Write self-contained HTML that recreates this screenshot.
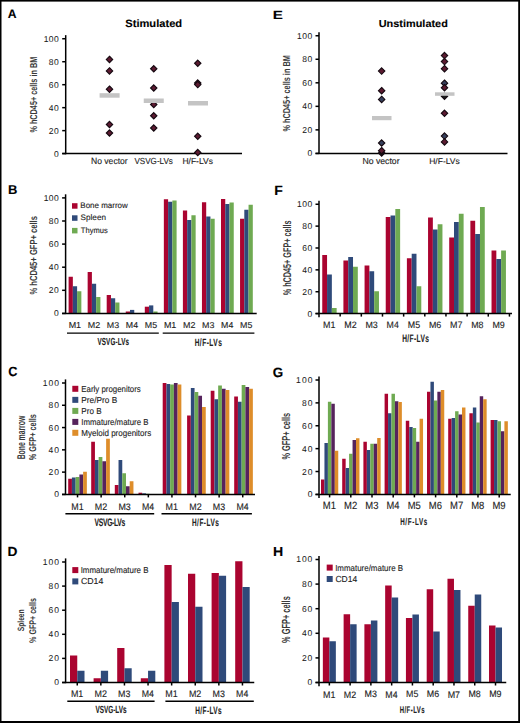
<!DOCTYPE html>
<html><head><meta charset="utf-8"><style>
html,body{margin:0;padding:0;background:#fff;}
body{width:520px;height:723px;overflow:hidden;position:relative;}
svg{position:absolute;left:0;top:0;}
text{font-family:"Liberation Sans",sans-serif;text-rendering:geometricPrecision;stroke:#222;paint-order:stroke;}
</style></head><body>
<svg width="520" height="723" viewBox="0 0 520 723">
<rect x="0" y="0" width="520" height="723" fill="#fff"/>
<text transform="translate(7.87,18.42) scale(0.3041,0.3098)" font-size="40" stroke-width="0.387" font-weight="700" fill="#000" >A</text>
<text transform="translate(125.24,26.82) scale(0.2784,0.2670)" font-size="40" stroke-width="0.449" font-weight="700" fill="#000" >Stimulated</text>
<line x1="65.70" y1="35.15" x2="65.70" y2="154.25" stroke="#000" stroke-width="1.5"/>
<line x1="62.20" y1="153.60" x2="65.70" y2="153.60" stroke="#000" stroke-width="1.5"/>
<text transform="translate(53.90,156.58) scale(0.2125,0.2125)" font-size="40" letter-spacing="1.55" stroke-width="0.188" font-weight="400" fill="#1a1a1a">0</text>
<line x1="62.20" y1="130.63" x2="65.70" y2="130.63" stroke="#000" stroke-width="1.5"/>
<text transform="translate(48.85,133.61) scale(0.2125,0.2125)" font-size="40" letter-spacing="1.55" stroke-width="0.188" font-weight="400" fill="#1a1a1a">20</text>
<line x1="62.20" y1="107.66" x2="65.70" y2="107.66" stroke="#000" stroke-width="1.5"/>
<text transform="translate(48.85,110.63) scale(0.2125,0.2125)" font-size="40" letter-spacing="1.55" stroke-width="0.188" font-weight="400" fill="#1a1a1a">40</text>
<line x1="62.20" y1="84.69" x2="65.70" y2="84.69" stroke="#000" stroke-width="1.5"/>
<text transform="translate(48.85,87.66) scale(0.2125,0.2125)" font-size="40" letter-spacing="1.55" stroke-width="0.188" font-weight="400" fill="#1a1a1a">60</text>
<line x1="62.20" y1="61.72" x2="65.70" y2="61.72" stroke="#000" stroke-width="1.5"/>
<text transform="translate(48.85,64.69) scale(0.2125,0.2125)" font-size="40" letter-spacing="1.55" stroke-width="0.188" font-weight="400" fill="#1a1a1a">80</text>
<line x1="62.20" y1="38.75" x2="65.70" y2="38.75" stroke="#000" stroke-width="1.5"/>
<text transform="translate(43.80,41.72) scale(0.2125,0.2125)" font-size="40" letter-spacing="1.55" stroke-width="0.188" font-weight="400" fill="#1a1a1a">100</text>
<line x1="62.20" y1="153.60" x2="242.00" y2="153.60" stroke="#000" stroke-width="1.5"/>
<text transform="translate(37.22,132.61) rotate(-90) scale(0.1820,0.2500)" font-size="40" stroke-width="0.000" font-weight="700" fill="#3a3a3a">% hCD45+ cells in BM</text>
<polygon points="109.50,56.25 112.70,59.45 109.50,62.65 106.30,59.45" fill="#5c1b31" stroke="#140810" stroke-width="1.1" stroke-linejoin="miter"/>
<polygon points="109.50,67.70 112.70,70.90 109.50,74.10 106.30,70.90" fill="#5c1b31" stroke="#140810" stroke-width="1.1" stroke-linejoin="miter"/>
<polygon points="109.50,86.00 112.70,89.20 109.50,92.40 106.30,89.20" fill="#5c1b31" stroke="#140810" stroke-width="1.1" stroke-linejoin="miter"/>
<polygon points="109.50,121.30 112.70,124.50 109.50,127.70 106.30,124.50" fill="#5c1b31" stroke="#140810" stroke-width="1.1" stroke-linejoin="miter"/>
<polygon points="109.50,129.80 112.70,133.00 109.50,136.20 106.30,133.00" fill="#5c1b31" stroke="#140810" stroke-width="1.1" stroke-linejoin="miter"/>
<polygon points="153.75,65.55 156.95,68.75 153.75,71.95 150.55,68.75" fill="#5c1b31" stroke="#140810" stroke-width="1.1" stroke-linejoin="miter"/>
<polygon points="153.75,84.80 156.95,88.00 153.75,91.20 150.55,88.00" fill="#5c1b31" stroke="#140810" stroke-width="1.1" stroke-linejoin="miter"/>
<polygon points="153.75,101.30 156.95,104.50 153.75,107.70 150.55,104.50" fill="#5c1b31" stroke="#140810" stroke-width="1.1" stroke-linejoin="miter"/>
<polygon points="153.75,112.55 156.95,115.75 153.75,118.95 150.55,115.75" fill="#5c1b31" stroke="#140810" stroke-width="1.1" stroke-linejoin="miter"/>
<polygon points="153.75,124.80 156.95,128.00 153.75,131.20 150.55,128.00" fill="#5c1b31" stroke="#140810" stroke-width="1.1" stroke-linejoin="miter"/>
<polygon points="197.75,60.05 200.95,63.25 197.75,66.45 194.55,63.25" fill="#5c1b31" stroke="#140810" stroke-width="1.1" stroke-linejoin="miter"/>
<polygon points="197.75,79.80 200.95,83.00 197.75,86.20 194.55,83.00" fill="#5c1b31" stroke="#140810" stroke-width="1.1" stroke-linejoin="miter"/>
<polygon points="197.75,81.40 200.95,84.60 197.75,87.80 194.55,84.60" fill="#5c1b31" stroke="#140810" stroke-width="1.1" stroke-linejoin="miter"/>
<polygon points="197.75,133.05 200.95,136.25 197.75,139.45 194.55,136.25" fill="#5c1b31" stroke="#140810" stroke-width="1.1" stroke-linejoin="miter"/>
<polygon points="197.75,149.30 200.95,152.50 197.75,155.70 194.55,152.50" fill="#5c1b31" stroke="#140810" stroke-width="1.1" stroke-linejoin="miter"/>
<rect x="99.60" y="93.20" width="20.00" height="4.50" fill="#c4c4c4"/>
<rect x="143.75" y="98.50" width="20.00" height="4.50" fill="#c4c4c4"/>
<rect x="188.00" y="101.00" width="20.00" height="4.50" fill="#c4c4c4"/>
<text transform="translate(90.99,164.44) scale(0.2144,0.2232)" font-size="40" stroke-width="0.538" font-weight="400" fill="#222" >No vector</text>
<text transform="translate(134.43,164.44) scale(0.2021,0.2201)" font-size="40" stroke-width="0.545" font-weight="400" fill="#222" >VSVG-LVs</text>
<text transform="translate(182.40,164.44) scale(0.2123,0.2126)" font-size="40" stroke-width="0.564" font-weight="400" fill="#222" >H/F-LVs</text>
<text transform="translate(272.84,18.67) scale(0.3805,0.2935)" font-size="40" stroke-width="0.409" font-weight="700" fill="#000" >E</text>
<text transform="translate(378.72,26.72) scale(0.2727,0.2568)" font-size="40" stroke-width="0.467" font-weight="700" fill="#000" >Unstimulated</text>
<line x1="319.00" y1="32.15" x2="319.00" y2="154.05" stroke="#000" stroke-width="1.5"/>
<line x1="315.50" y1="153.40" x2="319.00" y2="153.40" stroke="#000" stroke-width="1.5"/>
<text transform="translate(307.55,156.38) scale(0.2125,0.2125)" font-size="40" letter-spacing="2.82" stroke-width="0.188" font-weight="400" fill="#1a1a1a">0</text>
<line x1="315.50" y1="129.87" x2="319.00" y2="129.87" stroke="#000" stroke-width="1.5"/>
<text transform="translate(302.23,132.85) scale(0.2125,0.2125)" font-size="40" letter-spacing="2.82" stroke-width="0.188" font-weight="400" fill="#1a1a1a">20</text>
<line x1="315.50" y1="106.34" x2="319.00" y2="106.34" stroke="#000" stroke-width="1.5"/>
<text transform="translate(302.23,109.31) scale(0.2125,0.2125)" font-size="40" letter-spacing="2.82" stroke-width="0.188" font-weight="400" fill="#1a1a1a">40</text>
<line x1="315.50" y1="82.81" x2="319.00" y2="82.81" stroke="#000" stroke-width="1.5"/>
<text transform="translate(302.23,85.78) scale(0.2125,0.2125)" font-size="40" letter-spacing="2.82" stroke-width="0.188" font-weight="400" fill="#1a1a1a">60</text>
<line x1="315.50" y1="59.28" x2="319.00" y2="59.28" stroke="#000" stroke-width="1.5"/>
<text transform="translate(302.23,62.25) scale(0.2125,0.2125)" font-size="40" letter-spacing="2.82" stroke-width="0.188" font-weight="400" fill="#1a1a1a">80</text>
<line x1="315.50" y1="35.75" x2="319.00" y2="35.75" stroke="#000" stroke-width="1.5"/>
<text transform="translate(296.91,38.72) scale(0.2125,0.2125)" font-size="40" letter-spacing="2.82" stroke-width="0.188" font-weight="400" fill="#1a1a1a">100</text>
<line x1="315.50" y1="153.40" x2="507.50" y2="153.40" stroke="#000" stroke-width="1.5"/>
<text transform="translate(290.43,131.61) rotate(-90) scale(0.1834,0.2500)" font-size="40" stroke-width="0.000" font-weight="700" fill="#3a3a3a">% hCD45+ cells in BM</text>
<polygon points="381.65,67.90 384.85,71.10 381.65,74.30 378.45,71.10" fill="#5c1b31" stroke="#140810" stroke-width="1.1" stroke-linejoin="miter"/>
<polygon points="381.65,87.50 384.85,90.70 381.65,93.90 378.45,90.70" fill="#5c1b31" stroke="#140810" stroke-width="1.1" stroke-linejoin="miter"/>
<polygon points="381.65,96.20 384.85,99.40 381.65,102.60 378.45,99.40" fill="#36405c" stroke="#140810" stroke-width="1.1" stroke-linejoin="miter"/>
<polygon points="381.65,139.80 384.85,143.00 381.65,146.20 378.45,143.00" fill="#36405c" stroke="#140810" stroke-width="1.1" stroke-linejoin="miter"/>
<polygon points="381.65,149.80 384.85,153.00 381.65,156.20 378.45,153.00" fill="#1a1a1a" stroke="#140810" stroke-width="1.1" stroke-linejoin="miter"/>
<polygon points="381.65,147.50 384.85,150.70 381.65,153.90 378.45,150.70" fill="#5c1b31" stroke="#140810" stroke-width="1.1" stroke-linejoin="miter"/>
<polygon points="444.50,52.40 447.70,55.60 444.50,58.80 441.30,55.60" fill="#5c1b31" stroke="#140810" stroke-width="1.1" stroke-linejoin="miter"/>
<polygon points="444.50,58.40 447.70,61.60 444.50,64.80 441.30,61.60" fill="#5c1b31" stroke="#140810" stroke-width="1.1" stroke-linejoin="miter"/>
<polygon points="444.50,65.45 447.70,68.65 444.50,71.85 441.30,68.65" fill="#5c1b31" stroke="#140810" stroke-width="1.1" stroke-linejoin="miter"/>
<polygon points="444.50,93.10 447.70,96.30 444.50,99.50 441.30,96.30" fill="#1a1a1a" stroke="#140810" stroke-width="1.1" stroke-linejoin="miter"/>
<polygon points="444.50,80.00 447.70,83.20 444.50,86.40 441.30,83.20" fill="#36405c" stroke="#140810" stroke-width="1.1" stroke-linejoin="miter"/>
<polygon points="444.50,84.50 447.70,87.70 444.50,90.90 441.30,87.70" fill="#5c1b31" stroke="#140810" stroke-width="1.1" stroke-linejoin="miter"/>
<polygon points="444.50,110.10 447.70,113.30 444.50,116.50 441.30,113.30" fill="#5c1b31" stroke="#140810" stroke-width="1.1" stroke-linejoin="miter"/>
<polygon points="444.50,132.90 447.70,136.10 444.50,139.30 441.30,136.10" fill="#36405c" stroke="#140810" stroke-width="1.1" stroke-linejoin="miter"/>
<polygon points="444.50,138.70 447.70,141.90 444.50,145.10 441.30,141.90" fill="#5c1b31" stroke="#140810" stroke-width="1.1" stroke-linejoin="miter"/>
<rect x="372.00" y="116.00" width="19.50" height="4.20" fill="#c4c4c4"/>
<rect x="435.00" y="92.30" width="19.50" height="3.50" fill="#c4c4c4"/>
<text transform="translate(362.38,164.44) scale(0.2174,0.2196)" font-size="40" stroke-width="0.546" font-weight="400" fill="#222" >No vector</text>
<text transform="translate(429.19,164.44) scale(0.2130,0.2092)" font-size="40" stroke-width="0.574" font-weight="400" fill="#222" >H/F-LVs</text>
<text transform="translate(8.08,194.12) scale(0.3238,0.3207)" font-size="40" stroke-width="0.374" font-weight="700" fill="#000" >B</text>
<rect x="68.60" y="276.75" width="4.25" height="36.65" fill="#aa0430"/>
<rect x="72.85" y="286.25" width="4.25" height="27.15" fill="#2f4a7a"/>
<rect x="77.10" y="291.25" width="4.25" height="22.15" fill="#6faa52"/>
<rect x="87.65" y="272.00" width="4.25" height="41.40" fill="#aa0430"/>
<rect x="91.90" y="283.75" width="4.25" height="29.65" fill="#2f4a7a"/>
<rect x="96.15" y="297.00" width="4.25" height="16.40" fill="#6faa52"/>
<rect x="106.70" y="295.00" width="4.25" height="18.40" fill="#aa0430"/>
<rect x="110.95" y="298.25" width="4.25" height="15.15" fill="#2f4a7a"/>
<rect x="115.20" y="302.50" width="4.25" height="10.90" fill="#6faa52"/>
<rect x="125.75" y="311.50" width="4.25" height="1.90" fill="#aa0430"/>
<rect x="130.00" y="309.90" width="4.25" height="3.50" fill="#2f4a7a"/>
<rect x="134.25" y="313.00" width="4.25" height="0.40" fill="#6faa52"/>
<rect x="144.80" y="306.70" width="4.25" height="6.70" fill="#aa0430"/>
<rect x="149.05" y="305.40" width="4.25" height="8.00" fill="#2f4a7a"/>
<rect x="153.30" y="311.50" width="4.25" height="1.90" fill="#6faa52"/>
<rect x="163.85" y="199.25" width="4.25" height="114.15" fill="#aa0430"/>
<rect x="168.10" y="201.75" width="4.25" height="111.65" fill="#2f4a7a"/>
<rect x="172.35" y="200.50" width="4.25" height="112.90" fill="#6faa52"/>
<rect x="182.90" y="210.50" width="4.25" height="102.90" fill="#aa0430"/>
<rect x="187.15" y="220.00" width="4.25" height="93.40" fill="#2f4a7a"/>
<rect x="191.40" y="215.25" width="4.25" height="98.15" fill="#6faa52"/>
<rect x="201.95" y="202.25" width="4.25" height="111.15" fill="#aa0430"/>
<rect x="206.20" y="216.50" width="4.25" height="96.90" fill="#2f4a7a"/>
<rect x="210.45" y="218.75" width="4.25" height="94.65" fill="#6faa52"/>
<rect x="221.00" y="199.00" width="4.25" height="114.40" fill="#aa0430"/>
<rect x="225.25" y="204.00" width="4.25" height="109.40" fill="#2f4a7a"/>
<rect x="229.50" y="202.50" width="4.25" height="110.90" fill="#6faa52"/>
<rect x="240.05" y="218.75" width="4.25" height="94.65" fill="#aa0430"/>
<rect x="244.30" y="209.75" width="4.25" height="103.65" fill="#2f4a7a"/>
<rect x="248.55" y="204.75" width="4.25" height="108.65" fill="#6faa52"/>
<line x1="65.60" y1="194.30" x2="65.60" y2="314.05" stroke="#000" stroke-width="1.5"/>
<line x1="62.10" y1="313.40" x2="65.60" y2="313.40" stroke="#000" stroke-width="1.5"/>
<text transform="translate(53.90,316.38) scale(0.2125,0.2125)" font-size="40" letter-spacing="1.55" stroke-width="0.188" font-weight="400" fill="#1a1a1a">0</text>
<line x1="62.10" y1="290.30" x2="65.60" y2="290.30" stroke="#000" stroke-width="1.5"/>
<text transform="translate(48.85,293.27) scale(0.2125,0.2125)" font-size="40" letter-spacing="1.55" stroke-width="0.188" font-weight="400" fill="#1a1a1a">20</text>
<line x1="62.10" y1="267.20" x2="65.60" y2="267.20" stroke="#000" stroke-width="1.5"/>
<text transform="translate(48.85,270.18) scale(0.2125,0.2125)" font-size="40" letter-spacing="1.55" stroke-width="0.188" font-weight="400" fill="#1a1a1a">40</text>
<line x1="62.10" y1="244.10" x2="65.60" y2="244.10" stroke="#000" stroke-width="1.5"/>
<text transform="translate(48.85,247.08) scale(0.2125,0.2125)" font-size="40" letter-spacing="1.55" stroke-width="0.188" font-weight="400" fill="#1a1a1a">60</text>
<line x1="62.10" y1="221.00" x2="65.60" y2="221.00" stroke="#000" stroke-width="1.5"/>
<text transform="translate(48.85,223.98) scale(0.2125,0.2125)" font-size="40" letter-spacing="1.55" stroke-width="0.188" font-weight="400" fill="#1a1a1a">80</text>
<line x1="62.10" y1="197.90" x2="65.60" y2="197.90" stroke="#000" stroke-width="1.5"/>
<text transform="translate(43.80,200.88) scale(0.2125,0.2125)" font-size="40" letter-spacing="1.55" stroke-width="0.188" font-weight="400" fill="#1a1a1a">100</text>
<line x1="62.10" y1="313.40" x2="256.70" y2="313.40" stroke="#000" stroke-width="1.5"/>
<text transform="translate(37.42,294.61) rotate(-90) scale(0.1900,0.2568)" font-size="40" stroke-width="0.000" font-weight="700" fill="#3a3a3a">% hCD45+ GFP+ cells</text>
<rect x="72.00" y="203.20" width="5.50" height="5.50" fill="#aa0430"/>
<text transform="translate(80.34,208.12) scale(0.1995,0.2011)" font-size="40" stroke-width="0.597" font-weight="400" fill="#222">Bone marrow</text>
<rect x="72.00" y="215.30" width="5.50" height="5.50" fill="#2f4a7a"/>
<text transform="translate(80.61,220.23) scale(0.2034,0.2011)" font-size="40" stroke-width="0.597" font-weight="400" fill="#222">Spleen</text>
<rect x="72.00" y="227.90" width="5.50" height="5.50" fill="#6faa52"/>
<text transform="translate(80.82,232.83) scale(0.1889,0.2011)" font-size="40" stroke-width="0.597" font-weight="400" fill="#222">Thymus</text>
<text transform="translate(68.66,328.07) scale(0.2232,0.2156)" font-size="40" stroke-width="0.557" font-weight="400" fill="#222" >M1</text>
<text transform="translate(87.71,328.07) scale(0.2232,0.2125)" font-size="40" stroke-width="0.565" font-weight="400" fill="#222" >M2</text>
<text transform="translate(106.76,327.99) scale(0.2223,0.2095)" font-size="40" stroke-width="0.573" font-weight="400" fill="#222" >M3</text>
<text transform="translate(125.82,328.07) scale(0.2197,0.2156)" font-size="40" stroke-width="0.557" font-weight="400" fill="#222" >M4</text>
<text transform="translate(144.87,327.99) scale(0.2215,0.2125)" font-size="40" stroke-width="0.565" font-weight="400" fill="#222" >M5</text>
<text transform="translate(163.91,328.07) scale(0.2232,0.2156)" font-size="40" stroke-width="0.557" font-weight="400" fill="#222" >M1</text>
<text transform="translate(182.96,328.07) scale(0.2232,0.2125)" font-size="40" stroke-width="0.565" font-weight="400" fill="#222" >M2</text>
<text transform="translate(202.01,327.99) scale(0.2223,0.2095)" font-size="40" stroke-width="0.573" font-weight="400" fill="#222" >M3</text>
<text transform="translate(221.07,328.07) scale(0.2197,0.2156)" font-size="40" stroke-width="0.557" font-weight="400" fill="#222" >M4</text>
<text transform="translate(240.12,327.99) scale(0.2215,0.2125)" font-size="40" stroke-width="0.565" font-weight="400" fill="#222" >M5</text>
<line x1="67.00" y1="333.10" x2="158.80" y2="333.10" stroke="#000" stroke-width="1.4"/>
<line x1="162.70" y1="333.10" x2="254.40" y2="333.10" stroke="#000" stroke-width="1.4"/>
<text transform="translate(274.16,194.52) scale(0.3505,0.3351)" font-size="40" stroke-width="0.358" font-weight="700" fill="#000" >F</text>
<rect x="322.25" y="255.00" width="4.80" height="58.60" fill="#aa0430"/>
<rect x="327.05" y="274.50" width="4.80" height="39.10" fill="#2f4a7a"/>
<rect x="331.85" y="308.00" width="4.80" height="5.60" fill="#6faa52"/>
<rect x="343.41" y="260.50" width="4.80" height="53.10" fill="#aa0430"/>
<rect x="348.21" y="257.00" width="4.80" height="56.60" fill="#2f4a7a"/>
<rect x="353.01" y="266.75" width="4.80" height="46.85" fill="#6faa52"/>
<rect x="364.57" y="265.50" width="4.80" height="48.10" fill="#aa0430"/>
<rect x="369.37" y="271.25" width="4.80" height="42.35" fill="#2f4a7a"/>
<rect x="374.17" y="291.25" width="4.80" height="22.35" fill="#6faa52"/>
<rect x="385.73" y="217.00" width="4.80" height="96.60" fill="#aa0430"/>
<rect x="390.53" y="215.50" width="4.80" height="98.10" fill="#2f4a7a"/>
<rect x="395.33" y="209.00" width="4.80" height="104.60" fill="#6faa52"/>
<rect x="406.89" y="258.25" width="4.80" height="55.35" fill="#aa0430"/>
<rect x="411.69" y="253.75" width="4.80" height="59.85" fill="#2f4a7a"/>
<rect x="416.49" y="286.25" width="4.80" height="27.35" fill="#6faa52"/>
<rect x="428.05" y="217.50" width="4.80" height="96.10" fill="#aa0430"/>
<rect x="432.85" y="229.50" width="4.80" height="84.10" fill="#2f4a7a"/>
<rect x="437.65" y="224.25" width="4.80" height="89.35" fill="#6faa52"/>
<rect x="449.21" y="237.50" width="4.80" height="76.10" fill="#aa0430"/>
<rect x="454.01" y="222.00" width="4.80" height="91.60" fill="#2f4a7a"/>
<rect x="458.81" y="213.75" width="4.80" height="99.85" fill="#6faa52"/>
<rect x="470.37" y="220.75" width="4.80" height="92.85" fill="#aa0430"/>
<rect x="475.17" y="234.00" width="4.80" height="79.60" fill="#2f4a7a"/>
<rect x="479.97" y="207.00" width="4.80" height="106.60" fill="#6faa52"/>
<rect x="491.53" y="250.50" width="4.80" height="63.10" fill="#aa0430"/>
<rect x="496.33" y="259.00" width="4.80" height="54.60" fill="#2f4a7a"/>
<rect x="501.13" y="250.50" width="4.80" height="63.10" fill="#6faa52"/>
<line x1="319.00" y1="200.65" x2="319.00" y2="317.25" stroke="#000" stroke-width="1.5"/>
<line x1="315.50" y1="313.60" x2="319.00" y2="313.60" stroke="#000" stroke-width="1.5"/>
<text transform="translate(307.55,316.58) scale(0.2125,0.2125)" font-size="40" letter-spacing="2.82" stroke-width="0.188" font-weight="400" fill="#1a1a1a">0</text>
<line x1="315.50" y1="291.73" x2="319.00" y2="291.73" stroke="#000" stroke-width="1.5"/>
<text transform="translate(302.23,294.71) scale(0.2125,0.2125)" font-size="40" letter-spacing="2.82" stroke-width="0.188" font-weight="400" fill="#1a1a1a">20</text>
<line x1="315.50" y1="269.86" x2="319.00" y2="269.86" stroke="#000" stroke-width="1.5"/>
<text transform="translate(302.23,272.84) scale(0.2125,0.2125)" font-size="40" letter-spacing="2.82" stroke-width="0.188" font-weight="400" fill="#1a1a1a">40</text>
<line x1="315.50" y1="247.99" x2="319.00" y2="247.99" stroke="#000" stroke-width="1.5"/>
<text transform="translate(302.23,250.97) scale(0.2125,0.2125)" font-size="40" letter-spacing="2.82" stroke-width="0.188" font-weight="400" fill="#1a1a1a">60</text>
<line x1="315.50" y1="226.12" x2="319.00" y2="226.12" stroke="#000" stroke-width="1.5"/>
<text transform="translate(302.23,229.10) scale(0.2125,0.2125)" font-size="40" letter-spacing="2.82" stroke-width="0.188" font-weight="400" fill="#1a1a1a">80</text>
<line x1="315.50" y1="204.25" x2="319.00" y2="204.25" stroke="#000" stroke-width="1.5"/>
<text transform="translate(296.91,207.23) scale(0.2125,0.2125)" font-size="40" letter-spacing="2.82" stroke-width="0.188" font-weight="400" fill="#1a1a1a">100</text>
<line x1="315.50" y1="313.60" x2="512.00" y2="313.60" stroke="#000" stroke-width="1.5"/>
<line x1="340.16" y1="313.60" x2="340.16" y2="316.60" stroke="#000" stroke-width="1.5"/>
<line x1="361.32" y1="313.60" x2="361.32" y2="316.60" stroke="#000" stroke-width="1.5"/>
<line x1="382.48" y1="313.60" x2="382.48" y2="316.60" stroke="#000" stroke-width="1.5"/>
<line x1="403.64" y1="313.60" x2="403.64" y2="316.60" stroke="#000" stroke-width="1.5"/>
<line x1="424.80" y1="313.60" x2="424.80" y2="316.60" stroke="#000" stroke-width="1.5"/>
<line x1="445.96" y1="313.60" x2="445.96" y2="316.60" stroke="#000" stroke-width="1.5"/>
<line x1="467.12" y1="313.60" x2="467.12" y2="316.60" stroke="#000" stroke-width="1.5"/>
<line x1="488.28" y1="313.60" x2="488.28" y2="316.60" stroke="#000" stroke-width="1.5"/>
<line x1="509.44" y1="313.60" x2="509.44" y2="316.60" stroke="#000" stroke-width="1.5"/>
<text transform="translate(291.21,295.31) rotate(-90) scale(0.1812,0.2806)" font-size="40" stroke-width="0.000" font-weight="700" fill="#3a3a3a">% hCD45+ GFP+ cells</text>
<text transform="translate(323.11,327.82) scale(0.2232,0.2355)" font-size="40" stroke-width="0.510" font-weight="400" fill="#222" >M1</text>
<text transform="translate(344.27,327.82) scale(0.2232,0.2321)" font-size="40" stroke-width="0.517" font-weight="400" fill="#222" >M2</text>
<text transform="translate(365.43,327.73) scale(0.2223,0.2289)" font-size="40" stroke-width="0.524" font-weight="400" fill="#222" >M3</text>
<text transform="translate(386.60,327.82) scale(0.2197,0.2355)" font-size="40" stroke-width="0.510" font-weight="400" fill="#222" >M4</text>
<text transform="translate(407.76,327.73) scale(0.2215,0.2321)" font-size="40" stroke-width="0.517" font-weight="400" fill="#222" >M5</text>
<text transform="translate(428.91,327.73) scale(0.2223,0.2289)" font-size="40" stroke-width="0.524" font-weight="400" fill="#222" >M6</text>
<text transform="translate(450.07,327.82) scale(0.2232,0.2355)" font-size="40" stroke-width="0.510" font-weight="400" fill="#222" >M7</text>
<text transform="translate(471.24,327.73) scale(0.2215,0.2289)" font-size="40" stroke-width="0.524" font-weight="400" fill="#222" >M8</text>
<text transform="translate(492.39,327.73) scale(0.2223,0.2289)" font-size="40" stroke-width="0.524" font-weight="400" fill="#222" >M9</text>
<text transform="translate(402.14,342.21) scale(0.1654,0.2668)" font-size="40" letter-spacing="2.30" stroke-width="0.450" font-weight="700" fill="#222">H/F-LVs</text>
<text transform="translate(97.51,345.32) scale(0.1572,0.2535)" font-size="40" letter-spacing="0.72" stroke-width="0.473" font-weight="700" fill="#222">VSVG-LVs</text>
<text transform="translate(194.65,345.61) scale(0.1633,0.2634)" font-size="40" letter-spacing="2.99" stroke-width="0.456" font-weight="700" fill="#222">H/F-LVs</text>
<text transform="translate(8.17,376.29) scale(0.3187,0.3327)" font-size="40" stroke-width="0.361" font-weight="700" fill="#000" >C</text>
<rect x="68.20" y="478.75" width="3.73" height="15.65" fill="#aa0430"/>
<rect x="71.93" y="477.50" width="3.73" height="16.90" fill="#2f4a7a"/>
<rect x="75.66" y="477.00" width="3.73" height="17.40" fill="#6faa52"/>
<rect x="79.39" y="474.50" width="3.73" height="19.90" fill="#56235c"/>
<rect x="83.12" y="471.75" width="3.73" height="22.65" fill="#de8d2a"/>
<rect x="91.20" y="441.75" width="3.73" height="52.65" fill="#aa0430"/>
<rect x="94.93" y="460.00" width="3.73" height="34.40" fill="#2f4a7a"/>
<rect x="98.66" y="457.00" width="3.73" height="37.40" fill="#6faa52"/>
<rect x="102.39" y="461.25" width="3.73" height="33.15" fill="#56235c"/>
<rect x="106.12" y="438.75" width="3.73" height="55.65" fill="#de8d2a"/>
<rect x="114.80" y="485.00" width="3.73" height="9.40" fill="#aa0430"/>
<rect x="118.53" y="460.00" width="3.73" height="34.40" fill="#2f4a7a"/>
<rect x="122.26" y="473.25" width="3.73" height="21.15" fill="#6faa52"/>
<rect x="125.99" y="486.25" width="3.73" height="8.15" fill="#56235c"/>
<rect x="129.72" y="481.25" width="3.73" height="13.15" fill="#de8d2a"/>
<rect x="138.50" y="492.70" width="3.73" height="1.70" fill="#aa0430"/>
<rect x="142.23" y="493.30" width="3.73" height="1.10" fill="#2f4a7a"/>
<rect x="145.96" y="493.80" width="3.73" height="0.60" fill="#6faa52"/>
<rect x="149.69" y="494.00" width="3.73" height="0.40" fill="#56235c"/>
<rect x="153.42" y="494.00" width="3.73" height="0.40" fill="#de8d2a"/>
<rect x="162.70" y="383.00" width="3.73" height="111.40" fill="#aa0430"/>
<rect x="166.43" y="384.00" width="3.73" height="110.40" fill="#2f4a7a"/>
<rect x="170.16" y="384.50" width="3.73" height="109.90" fill="#6faa52"/>
<rect x="173.89" y="383.00" width="3.73" height="111.40" fill="#56235c"/>
<rect x="177.62" y="384.50" width="3.73" height="109.90" fill="#de8d2a"/>
<rect x="187.10" y="415.50" width="3.73" height="78.90" fill="#aa0430"/>
<rect x="190.83" y="388.00" width="3.73" height="106.40" fill="#2f4a7a"/>
<rect x="194.56" y="392.00" width="3.73" height="102.40" fill="#6faa52"/>
<rect x="198.29" y="395.75" width="3.73" height="98.65" fill="#56235c"/>
<rect x="202.02" y="407.00" width="3.73" height="87.40" fill="#de8d2a"/>
<rect x="210.70" y="390.75" width="3.73" height="103.65" fill="#aa0430"/>
<rect x="214.43" y="399.25" width="3.73" height="95.15" fill="#2f4a7a"/>
<rect x="218.16" y="385.50" width="3.73" height="108.90" fill="#6faa52"/>
<rect x="221.89" y="388.75" width="3.73" height="105.65" fill="#56235c"/>
<rect x="225.62" y="390.00" width="3.73" height="104.40" fill="#de8d2a"/>
<rect x="234.20" y="396.50" width="3.73" height="97.90" fill="#aa0430"/>
<rect x="237.93" y="401.75" width="3.73" height="92.65" fill="#2f4a7a"/>
<rect x="241.66" y="385.00" width="3.73" height="109.40" fill="#6faa52"/>
<rect x="245.39" y="387.00" width="3.73" height="107.40" fill="#56235c"/>
<rect x="249.12" y="388.75" width="3.73" height="105.65" fill="#de8d2a"/>
<line x1="65.50" y1="379.40" x2="65.50" y2="495.05" stroke="#000" stroke-width="1.5"/>
<line x1="62.00" y1="494.40" x2="65.50" y2="494.40" stroke="#000" stroke-width="1.5"/>
<text transform="translate(54.30,497.38) scale(0.2125,0.2125)" font-size="40" letter-spacing="4.71" stroke-width="0.188" font-weight="400" fill="#1a1a1a">0</text>
<line x1="62.00" y1="472.12" x2="65.50" y2="472.12" stroke="#000" stroke-width="1.5"/>
<text transform="translate(48.58,475.10) scale(0.2125,0.2125)" font-size="40" letter-spacing="4.71" stroke-width="0.188" font-weight="400" fill="#1a1a1a">20</text>
<line x1="62.00" y1="449.84" x2="65.50" y2="449.84" stroke="#000" stroke-width="1.5"/>
<text transform="translate(48.58,452.81) scale(0.2125,0.2125)" font-size="40" letter-spacing="4.71" stroke-width="0.188" font-weight="400" fill="#1a1a1a">40</text>
<line x1="62.00" y1="427.56" x2="65.50" y2="427.56" stroke="#000" stroke-width="1.5"/>
<text transform="translate(48.58,430.54) scale(0.2125,0.2125)" font-size="40" letter-spacing="4.71" stroke-width="0.188" font-weight="400" fill="#1a1a1a">60</text>
<line x1="62.00" y1="405.28" x2="65.50" y2="405.28" stroke="#000" stroke-width="1.5"/>
<text transform="translate(48.58,408.25) scale(0.2125,0.2125)" font-size="40" letter-spacing="4.71" stroke-width="0.188" font-weight="400" fill="#1a1a1a">80</text>
<line x1="62.00" y1="383.00" x2="65.50" y2="383.00" stroke="#000" stroke-width="1.5"/>
<text transform="translate(42.86,385.98) scale(0.2125,0.2125)" font-size="40" letter-spacing="4.71" stroke-width="0.188" font-weight="400" fill="#1a1a1a">100</text>
<line x1="62.00" y1="494.40" x2="255.00" y2="494.40" stroke="#000" stroke-width="1.5"/>
<line x1="77.53" y1="494.40" x2="77.53" y2="497.40" stroke="#000" stroke-width="1.5"/>
<line x1="101.13" y1="494.40" x2="101.13" y2="497.40" stroke="#000" stroke-width="1.5"/>
<line x1="124.73" y1="494.40" x2="124.73" y2="497.40" stroke="#000" stroke-width="1.5"/>
<line x1="148.33" y1="494.40" x2="148.33" y2="497.40" stroke="#000" stroke-width="1.5"/>
<line x1="171.93" y1="494.40" x2="171.93" y2="497.40" stroke="#000" stroke-width="1.5"/>
<line x1="195.53" y1="494.40" x2="195.53" y2="497.40" stroke="#000" stroke-width="1.5"/>
<line x1="219.13" y1="494.40" x2="219.13" y2="497.40" stroke="#000" stroke-width="1.5"/>
<line x1="242.73" y1="494.40" x2="242.73" y2="497.40" stroke="#000" stroke-width="1.5"/>
<text transform="translate(24.61,459.37) rotate(-90) scale(0.1706,0.2804)" font-size="40" stroke-width="0.000" font-weight="700" fill="#3a3a3a">Bone marrow</text>
<text transform="translate(36.22,460.31) rotate(-90) scale(0.1825,0.2500)" font-size="40" stroke-width="0.000" font-weight="700" fill="#3a3a3a">% GFP+ cells</text>
<rect x="72.30" y="385.80" width="6.00" height="6.00" fill="#aa0430"/>
<text transform="translate(81.35,391.73) scale(0.1966,0.2192)" font-size="40" stroke-width="0.547" font-weight="400" fill="#222">Early progenitors</text>
<rect x="72.30" y="396.85" width="6.00" height="6.00" fill="#2f4a7a"/>
<text transform="translate(81.31,402.78) scale(0.2072,0.2192)" font-size="40" stroke-width="0.547" font-weight="400" fill="#222">Pre/Pro B</text>
<rect x="72.30" y="407.90" width="6.00" height="6.00" fill="#6faa52"/>
<text transform="translate(81.33,413.82) scale(0.2020,0.2192)" font-size="40" stroke-width="0.547" font-weight="400" fill="#222">Pro B</text>
<rect x="72.30" y="418.90" width="6.00" height="6.00" fill="#56235c"/>
<text transform="translate(81.27,424.82) scale(0.1962,0.2192)" font-size="40" stroke-width="0.547" font-weight="400" fill="#222">Immature/mature B</text>
<rect x="72.30" y="429.80" width="6.00" height="6.00" fill="#de8d2a"/>
<text transform="translate(81.33,435.73) scale(0.2002,0.2192)" font-size="40" stroke-width="0.547" font-weight="400" fill="#222">Myeloid progenitors</text>
<text transform="translate(71.19,510.07) scale(0.2232,0.2409)" font-size="40" stroke-width="0.498" font-weight="400" fill="#222" >M1</text>
<text transform="translate(94.79,510.07) scale(0.2232,0.2375)" font-size="40" stroke-width="0.505" font-weight="400" fill="#222" >M2</text>
<text transform="translate(118.39,509.98) scale(0.2223,0.2342)" font-size="40" stroke-width="0.512" font-weight="400" fill="#222" >M3</text>
<text transform="translate(142.00,510.07) scale(0.2197,0.2409)" font-size="40" stroke-width="0.498" font-weight="400" fill="#222" >M4</text>
<text transform="translate(165.59,510.07) scale(0.2232,0.2409)" font-size="40" stroke-width="0.498" font-weight="400" fill="#222" >M1</text>
<text transform="translate(189.19,510.07) scale(0.2232,0.2375)" font-size="40" stroke-width="0.505" font-weight="400" fill="#222" >M2</text>
<text transform="translate(212.79,509.98) scale(0.2223,0.2342)" font-size="40" stroke-width="0.512" font-weight="400" fill="#222" >M3</text>
<text transform="translate(236.40,510.07) scale(0.2197,0.2409)" font-size="40" stroke-width="0.498" font-weight="400" fill="#222" >M4</text>
<line x1="65.40" y1="513.70" x2="154.20" y2="513.70" stroke="#000" stroke-width="1.4"/>
<line x1="161.50" y1="513.70" x2="251.90" y2="513.70" stroke="#000" stroke-width="1.4"/>
<text transform="translate(94.61,525.62) scale(0.1692,0.2729)" font-size="40" letter-spacing="-2.00" stroke-width="0.440" font-weight="700" fill="#222">VSVG-LVs</text>
<text transform="translate(191.96,525.52) scale(0.1612,0.2601)" font-size="40" letter-spacing="3.13" stroke-width="0.461" font-weight="700" fill="#222">H/F-LVs</text>
<text transform="translate(272.64,376.59) scale(0.3352,0.3363)" font-size="40" stroke-width="0.357" font-weight="700" fill="#000" >G</text>
<rect x="321.00" y="479.50" width="3.45" height="14.90" fill="#aa0430"/>
<rect x="324.45" y="443.00" width="3.45" height="51.40" fill="#2f4a7a"/>
<rect x="327.90" y="401.75" width="3.45" height="92.65" fill="#6faa52"/>
<rect x="331.35" y="403.75" width="3.45" height="90.65" fill="#56235c"/>
<rect x="334.80" y="450.75" width="3.45" height="43.65" fill="#de8d2a"/>
<rect x="342.20" y="458.75" width="3.45" height="35.65" fill="#aa0430"/>
<rect x="345.65" y="468.00" width="3.45" height="26.40" fill="#2f4a7a"/>
<rect x="349.10" y="453.75" width="3.45" height="40.65" fill="#6faa52"/>
<rect x="352.55" y="440.00" width="3.45" height="54.40" fill="#56235c"/>
<rect x="356.00" y="438.25" width="3.45" height="56.15" fill="#de8d2a"/>
<rect x="363.40" y="441.75" width="3.45" height="52.65" fill="#aa0430"/>
<rect x="366.85" y="450.00" width="3.45" height="44.40" fill="#2f4a7a"/>
<rect x="370.30" y="443.75" width="3.45" height="50.65" fill="#6faa52"/>
<rect x="373.75" y="443.75" width="3.45" height="50.65" fill="#56235c"/>
<rect x="377.20" y="438.00" width="3.45" height="56.40" fill="#de8d2a"/>
<rect x="384.60" y="393.75" width="3.45" height="100.65" fill="#aa0430"/>
<rect x="388.05" y="413.25" width="3.45" height="81.15" fill="#2f4a7a"/>
<rect x="391.50" y="393.75" width="3.45" height="100.65" fill="#6faa52"/>
<rect x="394.95" y="401.25" width="3.45" height="93.15" fill="#56235c"/>
<rect x="398.40" y="402.00" width="3.45" height="92.40" fill="#de8d2a"/>
<rect x="405.80" y="420.75" width="3.45" height="73.65" fill="#aa0430"/>
<rect x="409.25" y="427.00" width="3.45" height="67.40" fill="#2f4a7a"/>
<rect x="412.70" y="428.00" width="3.45" height="66.40" fill="#6faa52"/>
<rect x="416.15" y="441.75" width="3.45" height="52.65" fill="#56235c"/>
<rect x="419.60" y="418.75" width="3.45" height="75.65" fill="#de8d2a"/>
<rect x="427.00" y="391.75" width="3.45" height="102.65" fill="#aa0430"/>
<rect x="430.45" y="381.75" width="3.45" height="112.65" fill="#2f4a7a"/>
<rect x="433.90" y="400.50" width="3.45" height="93.90" fill="#6faa52"/>
<rect x="437.35" y="391.75" width="3.45" height="102.65" fill="#56235c"/>
<rect x="440.80" y="390.00" width="3.45" height="104.40" fill="#de8d2a"/>
<rect x="448.20" y="418.75" width="3.45" height="75.65" fill="#aa0430"/>
<rect x="451.65" y="418.00" width="3.45" height="76.40" fill="#2f4a7a"/>
<rect x="455.10" y="411.25" width="3.45" height="83.15" fill="#6faa52"/>
<rect x="458.55" y="414.50" width="3.45" height="79.90" fill="#56235c"/>
<rect x="462.00" y="407.50" width="3.45" height="86.90" fill="#de8d2a"/>
<rect x="469.40" y="413.25" width="3.45" height="81.15" fill="#aa0430"/>
<rect x="472.85" y="407.50" width="3.45" height="86.90" fill="#2f4a7a"/>
<rect x="476.30" y="422.50" width="3.45" height="71.90" fill="#6faa52"/>
<rect x="479.75" y="396.25" width="3.45" height="98.15" fill="#56235c"/>
<rect x="483.20" y="399.25" width="3.45" height="95.15" fill="#de8d2a"/>
<rect x="490.60" y="420.00" width="3.45" height="74.40" fill="#aa0430"/>
<rect x="494.05" y="420.00" width="3.45" height="74.40" fill="#2f4a7a"/>
<rect x="497.50" y="421.25" width="3.45" height="73.15" fill="#6faa52"/>
<rect x="500.95" y="431.25" width="3.45" height="63.15" fill="#56235c"/>
<rect x="504.40" y="421.25" width="3.45" height="73.15" fill="#de8d2a"/>
<line x1="319.00" y1="376.40" x2="319.00" y2="498.05" stroke="#000" stroke-width="1.5"/>
<line x1="315.50" y1="494.40" x2="319.00" y2="494.40" stroke="#000" stroke-width="1.5"/>
<text transform="translate(307.75,497.38) scale(0.2125,0.2125)" font-size="40" letter-spacing="5.41" stroke-width="0.188" font-weight="400" fill="#1a1a1a">0</text>
<line x1="315.50" y1="471.52" x2="319.00" y2="471.52" stroke="#000" stroke-width="1.5"/>
<text transform="translate(301.88,474.50) scale(0.2125,0.2125)" font-size="40" letter-spacing="5.41" stroke-width="0.188" font-weight="400" fill="#1a1a1a">20</text>
<line x1="315.50" y1="448.64" x2="319.00" y2="448.64" stroke="#000" stroke-width="1.5"/>
<text transform="translate(301.88,451.62) scale(0.2125,0.2125)" font-size="40" letter-spacing="5.41" stroke-width="0.188" font-weight="400" fill="#1a1a1a">40</text>
<line x1="315.50" y1="425.76" x2="319.00" y2="425.76" stroke="#000" stroke-width="1.5"/>
<text transform="translate(301.88,428.74) scale(0.2125,0.2125)" font-size="40" letter-spacing="5.41" stroke-width="0.188" font-weight="400" fill="#1a1a1a">60</text>
<line x1="315.50" y1="402.88" x2="319.00" y2="402.88" stroke="#000" stroke-width="1.5"/>
<text transform="translate(301.88,405.86) scale(0.2125,0.2125)" font-size="40" letter-spacing="5.41" stroke-width="0.188" font-weight="400" fill="#1a1a1a">80</text>
<line x1="315.50" y1="380.00" x2="319.00" y2="380.00" stroke="#000" stroke-width="1.5"/>
<text transform="translate(296.01,382.98) scale(0.2125,0.2125)" font-size="40" letter-spacing="5.41" stroke-width="0.188" font-weight="400" fill="#1a1a1a">100</text>
<line x1="315.50" y1="494.40" x2="510.75" y2="494.40" stroke="#000" stroke-width="1.5"/>
<line x1="329.60" y1="494.40" x2="329.60" y2="497.40" stroke="#000" stroke-width="1.5"/>
<line x1="350.80" y1="494.40" x2="350.80" y2="497.40" stroke="#000" stroke-width="1.5"/>
<line x1="372.00" y1="494.40" x2="372.00" y2="497.40" stroke="#000" stroke-width="1.5"/>
<line x1="393.20" y1="494.40" x2="393.20" y2="497.40" stroke="#000" stroke-width="1.5"/>
<line x1="414.40" y1="494.40" x2="414.40" y2="497.40" stroke="#000" stroke-width="1.5"/>
<line x1="435.60" y1="494.40" x2="435.60" y2="497.40" stroke="#000" stroke-width="1.5"/>
<line x1="456.80" y1="494.40" x2="456.80" y2="497.40" stroke="#000" stroke-width="1.5"/>
<line x1="478.00" y1="494.40" x2="478.00" y2="497.40" stroke="#000" stroke-width="1.5"/>
<line x1="499.20" y1="494.40" x2="499.20" y2="497.40" stroke="#000" stroke-width="1.5"/>
<text transform="translate(290.01,459.61) rotate(-90) scale(0.1857,0.2874)" font-size="40" stroke-width="0.000" font-weight="700" fill="#3a3a3a">% GFP+ cells</text>
<text transform="translate(322.87,508.97) scale(0.2371,0.2663)" font-size="40" stroke-width="0.451" font-weight="400" fill="#222" >M1</text>
<text transform="translate(344.07,508.97) scale(0.2371,0.2625)" font-size="40" stroke-width="0.457" font-weight="400" fill="#222" >M2</text>
<text transform="translate(365.27,508.87) scale(0.2362,0.2588)" font-size="40" stroke-width="0.464" font-weight="400" fill="#222" >M3</text>
<text transform="translate(386.48,508.97) scale(0.2334,0.2663)" font-size="40" stroke-width="0.451" font-weight="400" fill="#222" >M4</text>
<text transform="translate(407.67,508.87) scale(0.2352,0.2625)" font-size="40" stroke-width="0.457" font-weight="400" fill="#222" >M5</text>
<text transform="translate(428.87,508.87) scale(0.2362,0.2588)" font-size="40" stroke-width="0.464" font-weight="400" fill="#222" >M6</text>
<text transform="translate(450.07,508.97) scale(0.2371,0.2663)" font-size="40" stroke-width="0.451" font-weight="400" fill="#222" >M7</text>
<text transform="translate(471.27,508.87) scale(0.2352,0.2588)" font-size="40" stroke-width="0.464" font-weight="400" fill="#222" >M8</text>
<text transform="translate(492.47,508.87) scale(0.2362,0.2588)" font-size="40" stroke-width="0.464" font-weight="400" fill="#222" >M9</text>
<text transform="translate(400.17,524.73) scale(0.1550,0.2500)" font-size="40" letter-spacing="4.33" stroke-width="0.480" font-weight="700" fill="#222">H/F-LVs</text>
<text transform="translate(7.48,556.13) scale(0.3435,0.3315)" font-size="40" stroke-width="0.362" font-weight="700" fill="#000" >D</text>
<rect x="70.00" y="655.50" width="7.25" height="27.00" fill="#aa0430"/>
<rect x="77.25" y="670.75" width="7.25" height="11.75" fill="#2f4a7a"/>
<rect x="93.60" y="678.25" width="7.25" height="4.25" fill="#aa0430"/>
<rect x="100.85" y="670.75" width="7.25" height="11.75" fill="#2f4a7a"/>
<rect x="117.20" y="648.00" width="7.25" height="34.50" fill="#aa0430"/>
<rect x="124.45" y="668.25" width="7.25" height="14.25" fill="#2f4a7a"/>
<rect x="140.80" y="678.25" width="7.25" height="4.25" fill="#aa0430"/>
<rect x="148.05" y="670.75" width="7.25" height="11.75" fill="#2f4a7a"/>
<rect x="164.40" y="565.00" width="7.25" height="117.50" fill="#aa0430"/>
<rect x="171.65" y="602.00" width="7.25" height="80.50" fill="#2f4a7a"/>
<rect x="188.00" y="573.75" width="7.25" height="108.75" fill="#aa0430"/>
<rect x="195.25" y="606.75" width="7.25" height="75.75" fill="#2f4a7a"/>
<rect x="211.60" y="573.00" width="7.25" height="109.50" fill="#aa0430"/>
<rect x="218.85" y="575.75" width="7.25" height="106.75" fill="#2f4a7a"/>
<rect x="235.20" y="561.25" width="7.25" height="121.25" fill="#aa0430"/>
<rect x="242.45" y="587.00" width="7.25" height="95.50" fill="#2f4a7a"/>
<line x1="65.60" y1="558.40" x2="65.60" y2="683.15" stroke="#000" stroke-width="1.5"/>
<line x1="62.10" y1="682.50" x2="65.60" y2="682.50" stroke="#000" stroke-width="1.5"/>
<text transform="translate(54.30,685.47) scale(0.2125,0.2125)" font-size="40" letter-spacing="4.71" stroke-width="0.188" font-weight="400" fill="#1a1a1a">0</text>
<line x1="62.10" y1="658.40" x2="65.60" y2="658.40" stroke="#000" stroke-width="1.5"/>
<text transform="translate(48.58,661.37) scale(0.2125,0.2125)" font-size="40" letter-spacing="4.71" stroke-width="0.188" font-weight="400" fill="#1a1a1a">20</text>
<line x1="62.10" y1="634.30" x2="65.60" y2="634.30" stroke="#000" stroke-width="1.5"/>
<text transform="translate(48.58,637.27) scale(0.2125,0.2125)" font-size="40" letter-spacing="4.71" stroke-width="0.188" font-weight="400" fill="#1a1a1a">40</text>
<line x1="62.10" y1="610.20" x2="65.60" y2="610.20" stroke="#000" stroke-width="1.5"/>
<text transform="translate(48.58,613.17) scale(0.2125,0.2125)" font-size="40" letter-spacing="4.71" stroke-width="0.188" font-weight="400" fill="#1a1a1a">60</text>
<line x1="62.10" y1="586.10" x2="65.60" y2="586.10" stroke="#000" stroke-width="1.5"/>
<text transform="translate(48.58,589.07) scale(0.2125,0.2125)" font-size="40" letter-spacing="4.71" stroke-width="0.188" font-weight="400" fill="#1a1a1a">80</text>
<line x1="62.10" y1="562.00" x2="65.60" y2="562.00" stroke="#000" stroke-width="1.5"/>
<text transform="translate(42.86,564.97) scale(0.2125,0.2125)" font-size="40" letter-spacing="4.71" stroke-width="0.188" font-weight="400" fill="#1a1a1a">100</text>
<line x1="62.10" y1="682.50" x2="254.25" y2="682.50" stroke="#000" stroke-width="1.5"/>
<line x1="77.25" y1="682.50" x2="77.25" y2="685.50" stroke="#000" stroke-width="1.5"/>
<line x1="100.85" y1="682.50" x2="100.85" y2="685.50" stroke="#000" stroke-width="1.5"/>
<line x1="124.45" y1="682.50" x2="124.45" y2="685.50" stroke="#000" stroke-width="1.5"/>
<line x1="148.05" y1="682.50" x2="148.05" y2="685.50" stroke="#000" stroke-width="1.5"/>
<line x1="171.65" y1="682.50" x2="171.65" y2="685.50" stroke="#000" stroke-width="1.5"/>
<line x1="195.25" y1="682.50" x2="195.25" y2="685.50" stroke="#000" stroke-width="1.5"/>
<line x1="218.85" y1="682.50" x2="218.85" y2="685.50" stroke="#000" stroke-width="1.5"/>
<line x1="242.45" y1="682.50" x2="242.45" y2="685.50" stroke="#000" stroke-width="1.5"/>
<text transform="translate(24.00,631.33) rotate(-90) scale(0.1681,0.2286)" font-size="40" stroke-width="0.000" font-weight="700" fill="#3a3a3a">Spleen</text>
<text transform="translate(36.03,642.90) rotate(-90) scale(0.1777,0.2432)" font-size="40" stroke-width="0.000" font-weight="700" fill="#3a3a3a">% GFP+ cells</text>
<rect x="72.30" y="567.10" width="6.00" height="6.00" fill="#aa0430"/>
<text transform="translate(80.66,573.02) scale(0.1980,0.2192)" font-size="40" stroke-width="0.547" font-weight="400" fill="#222">Immature/mature B</text>
<rect x="72.30" y="578.40" width="6.00" height="6.00" fill="#2f4a7a"/>
<text transform="translate(80.94,584.32) scale(0.2187,0.2192)" font-size="40" stroke-width="0.547" font-weight="400" fill="#222">CD14</text>
<text transform="translate(70.91,697.48) scale(0.2232,0.2409)" font-size="40" stroke-width="0.498" font-weight="400" fill="#222" >M1</text>
<text transform="translate(94.51,697.48) scale(0.2232,0.2375)" font-size="40" stroke-width="0.505" font-weight="400" fill="#222" >M2</text>
<text transform="translate(118.11,697.38) scale(0.2223,0.2342)" font-size="40" stroke-width="0.512" font-weight="400" fill="#222" >M3</text>
<text transform="translate(141.72,697.48) scale(0.2197,0.2409)" font-size="40" stroke-width="0.498" font-weight="400" fill="#222" >M4</text>
<text transform="translate(165.31,697.48) scale(0.2232,0.2409)" font-size="40" stroke-width="0.498" font-weight="400" fill="#222" >M1</text>
<text transform="translate(188.91,697.48) scale(0.2232,0.2375)" font-size="40" stroke-width="0.505" font-weight="400" fill="#222" >M2</text>
<text transform="translate(212.51,697.38) scale(0.2223,0.2342)" font-size="40" stroke-width="0.512" font-weight="400" fill="#222" >M3</text>
<text transform="translate(236.12,697.48) scale(0.2197,0.2409)" font-size="40" stroke-width="0.498" font-weight="400" fill="#222" >M4</text>
<line x1="67.30" y1="701.20" x2="154.60" y2="701.20" stroke="#000" stroke-width="1.4"/>
<line x1="165.40" y1="701.20" x2="253.80" y2="701.20" stroke="#000" stroke-width="1.4"/>
<text transform="translate(95.61,713.22) scale(0.1605,0.2588)" font-size="40" letter-spacing="-0.34" stroke-width="0.464" font-weight="700" fill="#222">VSVG-LVs</text>
<text transform="translate(195.26,713.52) scale(0.1612,0.2601)" font-size="40" letter-spacing="2.62" stroke-width="0.461" font-weight="700" fill="#222">H/F-LVs</text>
<text transform="translate(272.96,556.23) scale(0.3538,0.3279)" font-size="40" stroke-width="0.366" font-weight="700" fill="#000" >H</text>
<rect x="322.85" y="637.50" width="6.50" height="45.00" fill="#aa0430"/>
<rect x="329.35" y="641.25" width="6.50" height="41.25" fill="#2f4a7a"/>
<rect x="343.62" y="614.25" width="6.50" height="68.25" fill="#aa0430"/>
<rect x="350.12" y="624.25" width="6.50" height="58.25" fill="#2f4a7a"/>
<rect x="364.39" y="624.25" width="6.50" height="58.25" fill="#aa0430"/>
<rect x="370.89" y="620.50" width="6.50" height="62.00" fill="#2f4a7a"/>
<rect x="385.16" y="585.50" width="6.50" height="97.00" fill="#aa0430"/>
<rect x="391.66" y="597.50" width="6.50" height="85.00" fill="#2f4a7a"/>
<rect x="405.93" y="618.00" width="6.50" height="64.50" fill="#aa0430"/>
<rect x="412.43" y="614.50" width="6.50" height="68.00" fill="#2f4a7a"/>
<rect x="426.70" y="589.25" width="6.50" height="93.25" fill="#aa0430"/>
<rect x="433.20" y="631.50" width="6.50" height="51.00" fill="#2f4a7a"/>
<rect x="447.47" y="578.75" width="6.50" height="103.75" fill="#aa0430"/>
<rect x="453.97" y="590.00" width="6.50" height="92.50" fill="#2f4a7a"/>
<rect x="468.24" y="605.75" width="6.50" height="76.75" fill="#aa0430"/>
<rect x="474.74" y="594.50" width="6.50" height="88.00" fill="#2f4a7a"/>
<rect x="489.01" y="625.50" width="6.50" height="57.00" fill="#aa0430"/>
<rect x="495.51" y="627.50" width="6.50" height="55.00" fill="#2f4a7a"/>
<line x1="319.00" y1="555.90" x2="319.00" y2="686.15" stroke="#000" stroke-width="1.5"/>
<line x1="315.50" y1="682.50" x2="319.00" y2="682.50" stroke="#000" stroke-width="1.5"/>
<text transform="translate(307.55,685.47) scale(0.2125,0.2125)" font-size="40" letter-spacing="4.24" stroke-width="0.188" font-weight="400" fill="#1a1a1a">0</text>
<line x1="315.50" y1="657.90" x2="319.00" y2="657.90" stroke="#000" stroke-width="1.5"/>
<text transform="translate(301.93,660.87) scale(0.2125,0.2125)" font-size="40" letter-spacing="4.24" stroke-width="0.188" font-weight="400" fill="#1a1a1a">20</text>
<line x1="315.50" y1="633.30" x2="319.00" y2="633.30" stroke="#000" stroke-width="1.5"/>
<text transform="translate(301.93,636.27) scale(0.2125,0.2125)" font-size="40" letter-spacing="4.24" stroke-width="0.188" font-weight="400" fill="#1a1a1a">40</text>
<line x1="315.50" y1="608.70" x2="319.00" y2="608.70" stroke="#000" stroke-width="1.5"/>
<text transform="translate(301.93,611.67) scale(0.2125,0.2125)" font-size="40" letter-spacing="4.24" stroke-width="0.188" font-weight="400" fill="#1a1a1a">60</text>
<line x1="315.50" y1="584.10" x2="319.00" y2="584.10" stroke="#000" stroke-width="1.5"/>
<text transform="translate(301.93,587.07) scale(0.2125,0.2125)" font-size="40" letter-spacing="4.24" stroke-width="0.188" font-weight="400" fill="#1a1a1a">80</text>
<line x1="315.50" y1="559.50" x2="319.00" y2="559.50" stroke="#000" stroke-width="1.5"/>
<text transform="translate(296.31,562.47) scale(0.2125,0.2125)" font-size="40" letter-spacing="4.24" stroke-width="0.188" font-weight="400" fill="#1a1a1a">100</text>
<line x1="315.50" y1="682.50" x2="506.25" y2="682.50" stroke="#000" stroke-width="1.5"/>
<line x1="329.35" y1="682.50" x2="329.35" y2="685.50" stroke="#000" stroke-width="1.5"/>
<line x1="350.12" y1="682.50" x2="350.12" y2="685.50" stroke="#000" stroke-width="1.5"/>
<line x1="370.89" y1="682.50" x2="370.89" y2="685.50" stroke="#000" stroke-width="1.5"/>
<line x1="391.66" y1="682.50" x2="391.66" y2="685.50" stroke="#000" stroke-width="1.5"/>
<line x1="412.43" y1="682.50" x2="412.43" y2="685.50" stroke="#000" stroke-width="1.5"/>
<line x1="433.20" y1="682.50" x2="433.20" y2="685.50" stroke="#000" stroke-width="1.5"/>
<line x1="453.97" y1="682.50" x2="453.97" y2="685.50" stroke="#000" stroke-width="1.5"/>
<line x1="474.74" y1="682.50" x2="474.74" y2="685.50" stroke="#000" stroke-width="1.5"/>
<line x1="495.51" y1="682.50" x2="495.51" y2="685.50" stroke="#000" stroke-width="1.5"/>
<text transform="translate(290.41,642.91) rotate(-90) scale(0.1849,0.2942)" font-size="40" stroke-width="0.000" font-weight="700" fill="#3a3a3a">% GFP+ cells</text>
<rect x="326.70" y="564.60" width="6.00" height="6.00" fill="#aa0430"/>
<text transform="translate(335.16,570.52) scale(0.1983,0.2192)" font-size="40" stroke-width="0.547" font-weight="400" fill="#222">Immature/mature B</text>
<rect x="326.70" y="576.00" width="6.00" height="6.00" fill="#2f4a7a"/>
<text transform="translate(335.45,581.92) scale(0.2116,0.2192)" font-size="40" stroke-width="0.547" font-weight="400" fill="#222">CD14</text>
<text transform="translate(323.01,697.58) scale(0.2232,0.2391)" font-size="40" stroke-width="0.502" font-weight="400" fill="#222" >M1</text>
<text transform="translate(343.78,697.58) scale(0.2232,0.2357)" font-size="40" stroke-width="0.509" font-weight="400" fill="#222" >M2</text>
<text transform="translate(364.55,697.48) scale(0.2223,0.2324)" font-size="40" stroke-width="0.516" font-weight="400" fill="#222" >M3</text>
<text transform="translate(385.33,697.58) scale(0.2197,0.2391)" font-size="40" stroke-width="0.502" font-weight="400" fill="#222" >M4</text>
<text transform="translate(406.10,697.48) scale(0.2215,0.2357)" font-size="40" stroke-width="0.509" font-weight="400" fill="#222" >M5</text>
<text transform="translate(426.86,697.48) scale(0.2223,0.2324)" font-size="40" stroke-width="0.516" font-weight="400" fill="#222" >M6</text>
<text transform="translate(447.63,697.58) scale(0.2232,0.2391)" font-size="40" stroke-width="0.502" font-weight="400" fill="#222" >M7</text>
<text transform="translate(468.41,697.48) scale(0.2215,0.2324)" font-size="40" stroke-width="0.516" font-weight="400" fill="#222" >M8</text>
<text transform="translate(489.17,697.48) scale(0.2223,0.2324)" font-size="40" stroke-width="0.516" font-weight="400" fill="#222" >M9</text>
<text transform="translate(399.69,712.73) scale(0.1498,0.2416)" font-size="40" letter-spacing="3.09" stroke-width="0.497" font-weight="700" fill="#222">H/F-LVs</text>
<rect x="0" y="0" width="520" height="1.6" fill="#000"/>
<rect x="0" y="0" width="1.5" height="723" fill="#000"/>
<rect x="518.2" y="0" width="1.8" height="723" fill="#000"/>
<rect x="0" y="721.0" width="520" height="2" fill="#000"/>
</svg>
</body></html>
